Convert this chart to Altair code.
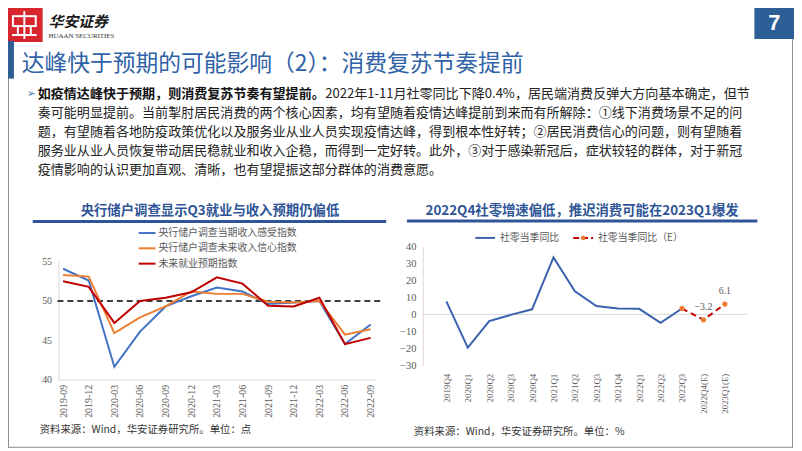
import altair as alt
import pandas as pd

CJK = "Noto Sans CJK SC"
SERIF = "Liberation Serif"
GRAY = "#595959"
BLUE_T = "#2F5597"

# ---------------- data ----------------
left_dates = ["2019-09", "2019-12", "2020-03", "2020-06", "2020-09", "2020-12", "2021-03",
              "2021-06", "2021-09", "2021-12", "2022-03", "2022-06", "2022-09"]
income_now = [54.1, 52.6, 41.6, 46.1, 49.3, 50.6, 51.7, 51.2, 49.6, 49.8, 50.0, 44.5, 47.0]
income_conf = [53.3, 53.1, 45.9, 47.9, 49.3, 51.2, 50.9, 50.9, 49.9, 49.8, 50.0, 45.7, 46.4]
employ_exp = [52.5, 51.8, 47.2, 50.0, 50.4, 51.1, 53.0, 52.2, 49.4, 49.3, 50.4, 44.5, 45.3]
left_series = ["央行储户调查当期收入感受指数", "央行储户调查未来收入信心指数", "未来就业预期指数"]
left_colors = ["#4472C4", "#ED7D31", "#C00000"]
left_ticks = [40, 45, 50, 55]
left_ref = [50]

right_quarters = ["2019Q4", "2020Q1", "2020Q2", "2020Q3", "2020Q4", "2021Q1", "2021Q2",
                  "2021Q3", "2021Q4", "2022Q1", "2022Q2", "2022Q3", "2022Q4(E)", "2023Q1(E)"]
retail_actual = [7.7, -19.6, -3.9, -0.3, 3.0, 33.6, 13.6, 4.9, 3.5, 3.3, -4.9, 3.5]
est_quarters = ["2022Q3", "2022Q4(E)", "2023Q1(E)"]
retail_est = [3.5, -3.2, 6.1]
right_series = ["社零当季同比", "社零当季同比（E）"]
right_ticks = [-30, -20, -10, 0, 10, 20, 30, 40]

main_title = "达峰快于预期的可能影响（2）：消费复苏节奏提前"
left_title = "央行储户调查显示Q3就业与收入预期仍偏低"
right_title = "2022Q4社零增速偏低，推迟消费可能在2023Q1爆发"
left_source = "资料来源：Wind，华安证券研究所。单位：点"
right_source = "资料来源：Wind，华安证券研究所。单位：%"
body_bold = "如疫情达峰快于预期，则消费复苏节奏有望提前。"
body_first = "2022年1-11月社零同比下降0.4%，居民端消费反弹大方向基本确定，但节"
body_rest = [
    "奏可能明显提前。当前掣肘居民消费的两个核心因素，均有望随着疫情达峰提前到来而有所解除：①线下消费场景不足的问",
    "题，有望随着各地防疫政策优化以及服务业从业人员实现疫情达峰，得到根本性好转；②居民消费信心的问题，则有望随着",
    "服务业从业人员恢复带动居民稳就业和收入企稳，而得到一定好转。此外，③对于感染新冠后，症状较轻的群体，对于新冠",
    "疫情影响的认识更加直观、清晰，也有望提振这部分群体的消费意愿。",
]
brand_cn = "华安证券"
brand_en = "HUAAN SECURITIES"
page_no = "7"

# ---------------- helpers ----------------
ONE = alt.Data(values=[{}])


def text(s, x, y, size, color, font=CJK, weight="normal", align="left", style="normal"):
    return alt.Chart(alt.Data(values=[{"t": s}])).mark_text(
        align=align, baseline="middle", fontSize=size, font=font, color=color,
        fontWeight=weight, fontStyle=style
    ).encode(x=alt.value(x), y=alt.value(y), text="t:N")


def rect(x1, x2, y1, y2, color):
    return alt.Chart(ONE).mark_rect(color=color).encode(
        x=alt.value(x1), x2=alt.value(x2), y=alt.value(y1), y2=alt.value(y2))


def hrule(x1, x2, y, color, w=1.0, dash=None):
    kw = dict(color=color, strokeWidth=w)
    if dash:
        kw["strokeDash"] = dash
    return alt.Chart(ONE).mark_rule(**kw).encode(x=alt.value(x1), x2=alt.value(x2), y=alt.value(y))


def vrule(x, y1, y2, color, w=1.0):
    return alt.Chart(ONE).mark_rule(color=color, strokeWidth=w).encode(
        x=alt.value(x), y=alt.value(y1), y2=alt.value(y2))


# ---------------- decorations ----------------
deco = []
# frame
deco.append(vrule(8.5, 38, 450, "#8C8C8C"))
deco.append(vrule(800.5, 37, 450, "#8C8C8C"))
deco.append(hrule(0, 801, 449.5, "#8C8C8C"))
# logo
deco.append(rect(6, 43, 5, 40, "#D7262E"))
deco.append(hrule(12, 37, 14, "#FFFFFF", 2))
deco.append(hrule(12, 37, 24, "#FFFFFF", 2))
deco.append(hrule(12, 37, 33, "#FFFFFF", 2))
deco.append(vrule(13, 14, 24, "#FFFFFF", 2))
deco.append(vrule(36, 14, 24, "#FFFFFF", 2))
deco.append(vrule(24.5, 9, 37, "#FFFFFF", 2))
deco.append(vrule(18, 24, 33, "#FFFFFF", 2))
deco.append(vrule(31, 24, 33, "#FFFFFF", 2))
deco.append(text(brand_cn, 49, 20, 15, "#1A1A1A", weight="bold", style="italic"))
deco.append(text(brand_en, 49, 34, 7, "#333333", font=SERIF))
# page number box
deco.append(rect(762, 802, 0, 37, "#2E5E96"))
deco.append(text(page_no, 782, 21, 22, "#FFFFFF", font="Liberation Sans", weight="bold", align="center"))
# title
deco.append(rect(8, 14, 39, 77, "#2E5E96"))
deco.append(text(main_title, 22, 62, 23, "#2F62A6"))
# body
deco.append(text("➢", 27, 93, 11, "#4F81BD", font="DejaVu Sans"))
deco.append(text(body_bold, 38, 93, 13.2, "#111111", weight="bold"))
deco.append(text(body_first, 38 + 22 * 13.2, 93, 13.2, "#222222"))
for i, line in enumerate(body_rest):
    deco.append(text(line, 38, 112 + 19 * i, 13.2, "#222222"))
# chart titles + underline
deco.append(text(left_title, 212, 211, 13.5, BLUE_T, weight="bold", align="center"))
deco.append(hrule(33, 390, 221.5, BLUE_T, 3))
deco.append(text(right_title, 588, 211, 13.5, BLUE_T, weight="bold", align="center"))
deco.append(hrule(411, 765, 221, BLUE_T, 3))
# left legend
for i, (name, col) in enumerate(zip(left_series, left_colors)):
    yy = 233 + 15.5 * i
    deco.append(hrule(140, 157, yy, col, 2))
    deco.append(text(name, 160, yy, 10, GRAY))
# right legend
deco.append(hrule(480, 500, 238, "#3A62AE", 2))
deco.append(text(right_series[0], 505, 238, 10, GRAY))
deco.append(hrule(579, 599, 238, "#C00000", 2, [6, 3]))
deco.append(alt.Chart(ONE).mark_circle(color="#ED7D31", size=22, opacity=1).encode(
    x=alt.value(589), y=alt.value(238)))
deco.append(text(right_series[1], 604, 238, 10, GRAY))
# sources
deco.append(text(left_source, 40, 432, 10.5, "#333333"))
deco.append(text(right_source, 418, 434, 10.5, "#333333"))

H = 451

# ---------------- left chart ----------------
rows = []
for name, vals in zip(left_series, [income_now, income_conf, employ_exp]):
    for d, v in zip(left_dates, vals):
        rows.append({"date": d, "series": name, "value": v})
ldf = pd.DataFrame(rows)

lx_scale = alt.Scale(type="point", domain=left_dates, range=[58.5, 379.5], padding=0.2)
lx_axis = alt.Axis(orient="bottom", offset=-(H - 381), title=None, labelAngle=-90,
                   labelFont=SERIF, labelFontSize=10, labelColor=GRAY, ticks=False,
                   domainColor="#D9D9D9", labelPadding=5, grid=False)
ly_scale = alt.Scale(domain=[40, 55], range=[381, 262], nice=False, zero=False)
ly_axis = alt.Axis(orient="left", offset=-59, title=None, values=left_ticks, ticks=False,
                   grid=False, domainColor="#D9D9D9", labelFont=SERIF, labelFontSize=10,
                   labelColor=GRAY, labelPadding=7)

left_layers = [
    alt.Chart(pd.DataFrame({"v": left_ref})).mark_rule(color="#000000", strokeWidth=1.5, strokeDash=[6, 4]).encode(
        x=alt.value(58), x2=alt.value(388),
        y=alt.Y("v:Q", scale=ly_scale, axis=ly_axis))
]
for name, col in zip(left_series, left_colors):
    left_layers.append(
        alt.Chart(ldf).transform_filter(alt.datum.series == name).mark_line(color=col, strokeWidth=2).encode(
            x=alt.X("date:N", scale=lx_scale, axis=lx_axis, sort=left_dates),
            y=alt.Y("value:Q", scale=ly_scale, axis=ly_axis)))
left = alt.layer(*left_layers)

# ---------------- right chart ----------------
adf = pd.DataFrame({"q": right_quarters[:len(retail_actual)], "v": retail_actual})
edf = pd.DataFrame({"q": est_quarters, "v": retail_est})
rx_scale = alt.Scale(type="point", domain=right_quarters, range=[440, 743])
rx_axis = alt.Axis(orient="bottom", offset=-(H - 366.7), title=None, labelAngle=-90,
                   labelFont=SERIF, labelFontSize=9, labelColor=GRAY, ticks=False,
                   domain=False, labelPadding=8, grid=False)
ry_scale = alt.Scale(domain=[-30, 40], range=[366.7, 246.7], nice=False, zero=False)
ry_axis = alt.Axis(orient="left", offset=-427, title=None, values=right_ticks, ticks=False,
                   grid=False, domainColor="#D9D9D9", labelFont=SERIF, labelFontSize=10.5,
                   labelColor=GRAY, labelPadding=7)
RX = alt.X("q:N", scale=rx_scale, axis=rx_axis, sort=right_quarters)
RY = alt.Y("v:Q", scale=ry_scale, axis=ry_axis)

right = alt.layer(
    alt.Chart(pd.DataFrame({"v": [0]})).mark_rule(color="#D9D9D9", strokeWidth=1).encode(
        x=alt.value(427), x2=alt.value(755), y=RY),
    alt.Chart(adf).mark_line(color="#3A62AE", strokeWidth=2).encode(x=RX, y=RY),
    alt.Chart(edf).mark_line(color="#C00000", strokeWidth=2, strokeDash=[6, 4]).encode(x=RX, y=RY),
    alt.Chart(edf).mark_circle(color="#ED7D31", size=28, opacity=1).encode(x=RX, y=RY),
    alt.Chart(edf.iloc[1:]).mark_text(font=SERIF, fontSize=10, color=GRAY, dy=-13).encode(
        x=RX, y=RY, text=alt.Text("v:Q", format=".1f")),
)

chart = alt.layer(*deco, left, right).resolve_scale(x="independent", y="independent").properties(
    width=802, height=451,
    autosize=alt.AutoSizeParams(type="none"),
    padding={"left": -8, "top": -8, "right": 0, "bottom": 0},
    background="#FFFFFF",
).configure_view(stroke=None)

chart.save("out.html", embed_options={"renderer": "svg", "actions": False})
